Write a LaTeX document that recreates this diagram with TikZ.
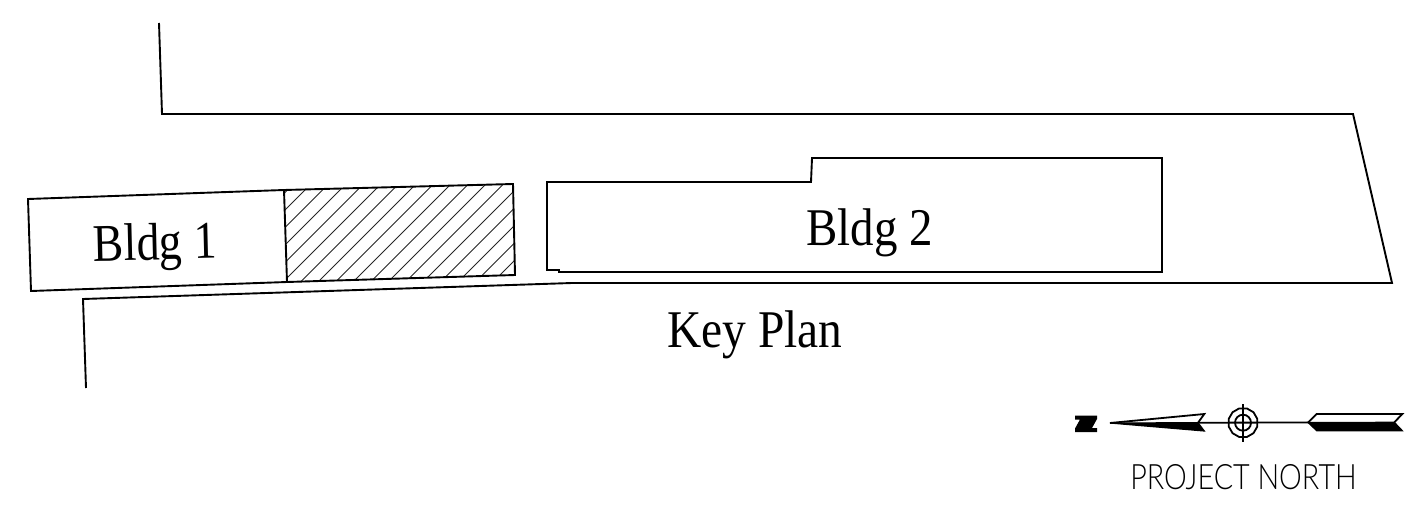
\documentclass[tikz,border=0pt]{standalone}
\usepackage{fontspec}
\setmainfont{Liberation Serif}
\newfontfamily\stickfont{Lato Light}
\tikzset{
  outline/.style={draw=black,line width=0.95pt,line join=miter},
  hatchline/.style={draw=black!85,line width=0.5pt},
  thinline/.style={draw=black,line width=0.9pt},
  solidpart/.style={fill=black,draw=black,line width=0.6pt,line join=miter},
  label/.style={inner sep=0pt,text=black,anchor=base}
}
\begin{document}
\begin{tikzpicture}[x=0.5pt,y=-0.5pt]
\useasboundingbox (0,0) rectangle (1416,508);
% site
\draw[outline] (159,23) -- (162,114) -- (1353,114) -- (1392,283) -- (572,283) -- (83,299) -- (86,388);
% building 1
\draw[outline] (284,190) -- (28,199) -- (31,291) -- (287,282);
% hatch
\begin{scope}
\clip (284,190) -- (513,184) -- (515,275) -- (287,282) -- cycle;
\foreach \k in {-1,...,17} {
  \draw[hatchline] ({495+17.5*\k-300},300) -- ({495+17.5*\k-100},100);
}
\end{scope}
\draw[outline] (284,190) -- (513,184) -- (515,275) -- (287,282) -- cycle;
% building 2
\draw[outline] (547,182) -- (811,182) -- (812,158) -- (1162,158) -- (1162,272) -- (559,272) -- (559,270) -- (547,270) -- cycle;
% labels
\node[label,rotate=1.4,xscale=.865,font=\fontsize{26.5}{30}\selectfont] (b1) at (155.5,259.7) {Bldg 1};
\node[label,xscale=.885,font=\fontsize{26.5}{30}\selectfont] (b2) at (869.7,245) {Bldg 2};
\node[label,xscale=.895,font=\fontsize{26.5}{30}\selectfont] (kp) at (755,347.3) {Key Plan};
% north arrow
\fill[black] (1075,415.5) -- (1097,415.5) -- (1097,419) -- (1092,428) -- (1097,428) -- (1097,432) -- (1075,432) -- (1075,428.5) -- (1080,419.5) -- (1075,419.5) -- cycle;
\draw[thinline] (1198,422.7) -- (1308,422.5);
\draw[solidpart] (1110,423) -- (1198,422.7) -- (1204.3,431) -- cycle;
\draw[thinline,line join=miter] (1110,423) -- (1204.3,414) -- (1198,422.7);
\draw[thinline] (1243,404) -- (1243,442);
\draw[thinline] (1243,422.7) circle[radius=8];
\draw[thinline] (1243,422.7) +(15:14.8) -- +(45:14.8) -- +(75:14.8) -- +(105:14.8) -- +(135:14.8) -- +(165:14.8) -- +(195:14.8) -- +(225:14.8) -- +(255:14.8) -- +(285:14.8) -- +(315:14.8) -- +(345:14.8) -- cycle;
\draw[solidpart] (1308,422.5) -- (1394.3,422.3) -- (1402.3,430.7) -- (1316.7,430.7) -- cycle;
\draw[thinline,line join=miter] (1308,422.5) -- (1316.7,414) -- (1402.3,414) -- (1394.3,422.3);
\node[label,font=\stickfont\fontsize{17.5}{20}\selectfont,xscale=.82] (pn) at (1243.5,489) {PROJECT NORTH};
\end{tikzpicture}
\end{document}
